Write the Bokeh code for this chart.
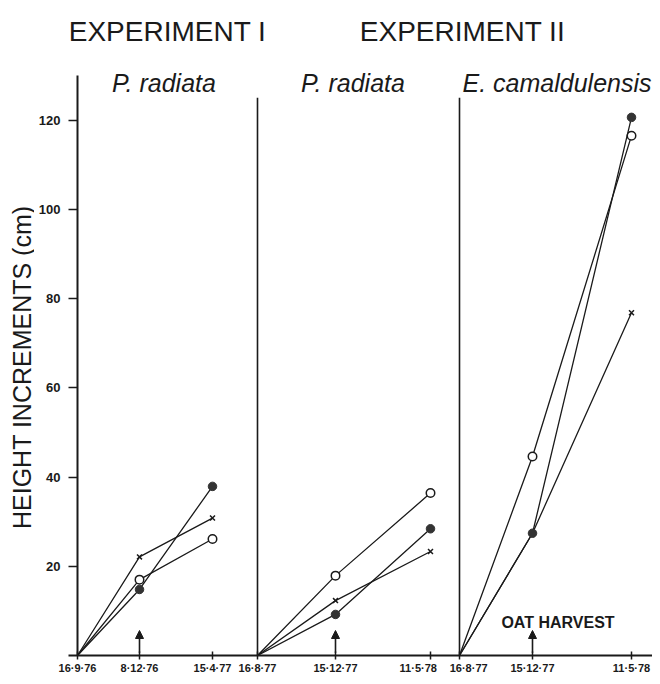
import math
from bokeh.plotting import figure
from bokeh.layouts import row
from bokeh.models import Range1d, FixedTicker, Label, Arrow, NormalHead
from bokeh.core.properties import value
from bokeh.embed import file_html
from bokeh.resources import INLINE

FONT = "Liberation Sans"
INK = "#1a1a1a"
NB = "\u00a0"

# ---- data -------------------------------------------------------------
experiments = ["EXPERIMENT I", "EXPERIMENT II"]
species = ["P. radiata", "P. radiata", "E. camaldulensis"]

# sampling dates for each panel and their positions along the drawn time axis
dates_1 = ["16·9·76", "8·12·76", "15·4·77"]
dates_2 = ["16·8·77", "15·12·77", "11·5·78"]
dates_3 = ["16·8·77", "15·12·77", "11·5·78"]
t_1 = [0, 62, 135]
t_2 = [180, 258, 353]
t_3 = [382, 455, 554]

# height increments (cm)
open_1 = [0, 17.0, 26.1]
filled_1 = [0, 14.8, 37.9]
cross_1 = [0, 22.1, 30.8]

open_2 = [0, 17.9, 36.4]
filled_2 = [0, 9.2, 28.4]
cross_2 = [0, 12.3, 23.3]

open_3 = [0, 44.6, 116.5]
filled_3 = [0, 27.4, 120.6]
cross_3 = [0, 27.4, 76.8]

y_ticks = [20, 40, 60, 80, 100, 120]
note = "OAT HARVEST"
y_title = "HEIGHT INCREMENTS (cm)"

Y_RANGE = (0, 145)

# ---- y title strip ----------------------------------------------------
pt = figure(width=34, height=676, output_backend="svg", toolbar_location=None,
            x_range=Range1d(0, 34), y_range=Range1d(*Y_RANGE),
            min_border_left=0, min_border_right=0, min_border_top=8,
            min_border_bottom=20)
pt.axis.visible = False
pt.grid.visible = False
pt.outline_line_color = None
pt.text(x=[21], y=[64.6], text=[y_title], angle=math.pi / 2,
        text_align="center", text_baseline="middle", text_font=value(FONT),
        text_font_size=value("25px"), text_color=INK)

# ---- main figure ------------------------------------------------------
p = figure(width=618, height=676, output_backend="svg", toolbar_location=None,
           x_range=Range1d(-9, 575), y_range=Range1d(*Y_RANGE),
           min_border_left=34, min_border_right=0, min_border_top=8,
           min_border_bottom=20)
p.xgrid.visible = False
p.ygrid.visible = False
p.outline_line_color = None
p.background_fill_color = "white"

# x axis
all_t = t_1 + t_2 + t_3
all_d = dates_1 + dates_2 + dates_3
labels = dict(zip(all_t, all_d))
# nudge the two crowded labels apart, as in the original print
labels[t_2[2]] = dates_2[2] + NB * 8
labels[t_3[0]] = NB * 6 + dates_3[0]
p.xaxis.ticker = FixedTicker(ticks=all_t)
p.xaxis.major_label_overrides = labels
p.xaxis.axis_line_width = 2
p.xaxis.axis_line_color = INK
p.xaxis.major_tick_in = 4
p.xaxis.major_tick_out = 4
p.xaxis.major_tick_line_width = 1.5
p.xaxis.major_tick_line_color = INK
p.xaxis.minor_tick_line_color = None
p.xaxis.major_label_standoff = 2
p.xaxis.major_label_text_font = FONT
p.xaxis.major_label_text_font_style = "bold"
p.xaxis.major_label_text_font_size = "11px"
p.xaxis.major_label_text_color = INK

# y axis
p.yaxis.ticker = FixedTicker(ticks=y_ticks)
p.yaxis.axis_line_color = None
p.yaxis.major_tick_in = 9
p.yaxis.major_tick_out = 0
p.yaxis.major_tick_line_width = 1.5
p.yaxis.major_tick_line_color = INK
p.yaxis.minor_tick_line_color = None
p.yaxis.major_label_standoff = 8
p.yaxis.major_label_text_font = FONT
p.yaxis.major_label_text_font_style = "bold"
p.yaxis.major_label_text_font_size = "13px"
p.yaxis.major_label_text_color = INK

# y spine and panel dividers
p.segment(x0=[t_1[0]], y0=[0], x1=[t_1[0]], y1=[130], line_color=INK, line_width=2)
p.segment(x0=[t_2[0], t_3[0]], y0=[0, 0], x1=[t_2[0], t_3[0]], y1=[125, 125],
          line_color=INK, line_width=1.6)

# series
panels = [(t_1, open_1, filled_1, cross_1),
          (t_2, open_2, filled_2, cross_2),
          (t_3, open_3, filled_3, cross_3)]
for t, o, f, c in panels:
    for ys in (o, f, c):
        p.line(t, ys, line_color=INK, line_width=1.3)
    p.scatter(t[1:], c[1:], marker="x", size=7, line_color=INK, line_width=1.5)
    p.scatter(t[1:], o[1:], marker="circle", size=8.5, fill_color="white",
              line_color=INK, line_width=1.5)
    p.scatter(t[1:], f[1:], marker="circle", size=8.5, fill_color="#333333",
              line_color="#333333", line_width=1)
    # harvest arrow at the middle sampling date
    p.add_layout(Arrow(end=NormalHead(size=8, fill_color=INK, line_color=INK),
                       x_start=t[1], y_start=0.6, x_end=t[1], y_end=5.6,
                       line_color=INK, line_width=1.6))

# titles
p.add_layout(Label(x=90, y=139.8, text=experiments[0],
                   text_align="center", text_baseline="alphabetic",
                   text_font=FONT, text_font_size="28px", text_color=INK))
p.add_layout(Label(x=385, y=139.8, text=experiments[1],
                   text_align="center", text_baseline="alphabetic",
                   text_font=FONT, text_font_size="28px", text_color=INK))
p.add_layout(Label(x=86.5, y=128.2, text=species[0], text_align="center",
                   text_baseline="alphabetic", text_font=FONT,
                   text_font_style="italic", text_font_size="25px", text_color=INK))
p.add_layout(Label(x=275.5, y=128.2, text=species[1], text_align="center",
                   text_baseline="alphabetic", text_font=FONT,
                   text_font_style="italic", text_font_size="25px", text_color=INK))
p.add_layout(Label(x=574, y=128.2, text=species[2], text_align="right",
                   text_baseline="alphabetic", text_font=FONT,
                   text_font_style="italic", text_font_size="25px", text_color=INK))

# note
p.add_layout(Label(x=480.5, y=7.4, text=note, text_align="center",
                   text_baseline="alphabetic", text_font=FONT,
                   text_font_style="bold", text_font_size="16px", text_color=INK))

layout = row(pt, p)
open("out.html", "w").write(file_html(layout, INLINE))
